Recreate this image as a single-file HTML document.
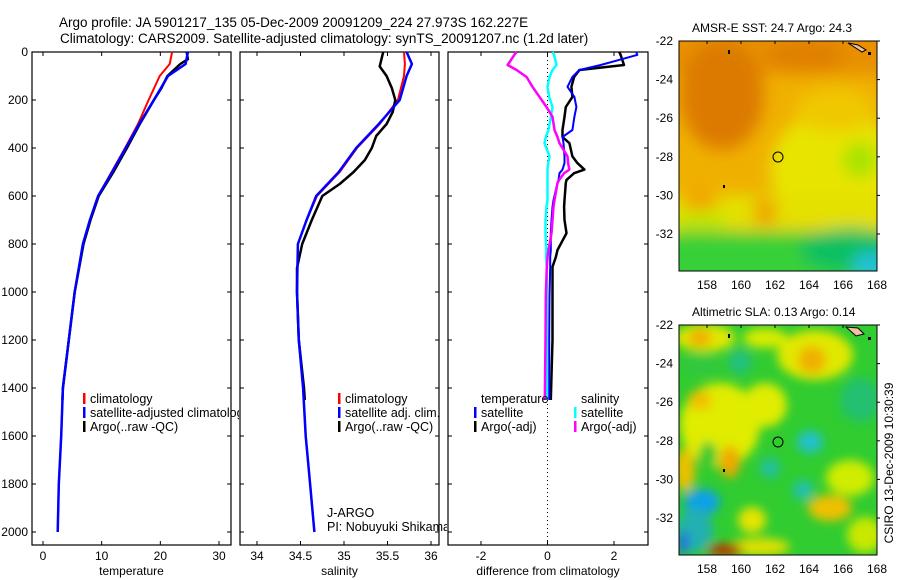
<!DOCTYPE html>
<html><head><meta charset="utf-8"><style>
html,body{margin:0;padding:0;background:#fff;}
svg{display:block;font-family:"Liberation Sans",sans-serif;}
</style></head><body>
<svg id="fig" width="900" height="580" viewBox="0 0 900 580" xmlns="http://www.w3.org/2000/svg">
<defs>
<filter id="blur1" x="-20%" y="-20%" width="140%" height="140%"><feGaussianBlur stdDeviation="8"/></filter>
<filter id="blur2" x="-20%" y="-20%" width="140%" height="140%"><feGaussianBlur stdDeviation="5"/></filter>
<clipPath id="cm1"><rect x="679" y="41" width="198" height="230"/></clipPath>
<clipPath id="cm2"><rect x="679" y="325" width="198" height="230"/></clipPath>
<clipPath id="cp1"><rect x="0" y="0" width="239" height="580"/></clipPath>
<clipPath id="cp2"><rect x="0" y="0" width="447" height="580"/></clipPath>
</defs>
<text x="59" y="27" font-size="13.5">Argo profile: JA 5901217_135 05-Dec-2009 20091209_224 27.973S 162.227E</text>
<text x="60" y="43" font-size="13.5">Climatology: CARS2009. Satellite-adjusted climatology: synTS_20091207.nc (1.2d later)</text>

<!-- Map 1 -->
<g>
<text x="692" y="32" font-size="12">AMSR-E SST: 24.7 Argo: 24.3</text>
<g clip-path="url(#cm1)">
<rect x="660" y="20" width="240" height="270" fill="#f0b000"/>
<g filter="url(#blur1)">
<rect x="660" y="20" width="240" height="55" fill="#e89000"/>
<ellipse cx="722" cy="95" rx="42" ry="55" fill="#dc7a00"/>
<ellipse cx="805" cy="55" rx="40" ry="16" fill="#e08000"/>
<ellipse cx="835" cy="170" rx="65" ry="60" fill="#e8e400"/>
<ellipse cx="860" cy="160" rx="18" ry="18" fill="#a8e400"/>
<ellipse cx="835" cy="110" rx="40" ry="22" fill="#f0c800"/>
<rect x="660" y="195" width="240" height="35" fill="#e4e000"/>
<ellipse cx="765" cy="212" rx="12" ry="14" fill="#f0a000"/>
<ellipse cx="700" cy="200" rx="18" ry="12" fill="#f0a800"/>
<ellipse cx="700" cy="222" rx="30" ry="8" fill="#b8e800"/>
<rect x="660" y="232" width="240" height="60" fill="#38d038"/>
<ellipse cx="850" cy="250" rx="50" ry="22" fill="#10c060"/>
<ellipse cx="872" cy="265" rx="20" ry="12" fill="#20c0e0"/>
</g>
<path d="M848 43 L858 45 L866 50 L862 52 Z" fill="#f0c0a0" stroke="#000" stroke-width="1"/>
<rect x="728" y="50" width="2" height="4" fill="#000"/>
<rect x="868" y="52" width="3" height="3" fill="#000"/>
<rect x="723" y="185" width="2" height="3" fill="#000"/>
<circle cx="778" cy="157" r="5" fill="none" stroke="#000" stroke-width="1"/>
</g>
<rect x="679" y="41" width="198" height="230" fill="none" stroke="#000" stroke-width="1"/>
<g id="m1ticks"></g>
</g>

<!-- Map 2 -->
<g>
<text x="692" y="316" font-size="12">Altimetric SLA: 0.13 Argo: 0.14</text>
<g clip-path="url(#cm2)">
<rect x="660" y="300" width="240" height="270" fill="#30cc30"/>
<g filter="url(#blur2)">
<ellipse cx="705" cy="338" rx="30" ry="14" fill="#e0e800"/>
<ellipse cx="700" cy="338" rx="12" ry="9" fill="#f0b000"/>
<ellipse cx="815" cy="355" rx="38" ry="25" fill="#e0e800"/>
<ellipse cx="812" cy="360" rx="14" ry="14" fill="#f0b000"/>
<ellipse cx="765" cy="338" rx="22" ry="10" fill="#d8ec00"/>
<ellipse cx="740" cy="362" rx="12" ry="12" fill="#20c080"/>
<ellipse cx="700" cy="365" rx="20" ry="10" fill="#30c840"/>
<ellipse cx="720" cy="425" rx="40" ry="42" fill="#e0ec00"/>
<ellipse cx="765" cy="405" rx="22" ry="22" fill="#e0ec00"/>
<ellipse cx="700" cy="400" rx="12" ry="10" fill="#f0c000"/>
<ellipse cx="730" cy="462" rx="10" ry="16" fill="#f0a800"/>
<ellipse cx="708" cy="455" rx="9" ry="13" fill="#30c830"/>
<ellipse cx="685" cy="470" rx="10" ry="22" fill="#f0c000"/>
<ellipse cx="810" cy="442" rx="13" ry="11" fill="#20c0d0"/>
<ellipse cx="770" cy="468" rx="10" ry="10" fill="#20c0a0"/>
<ellipse cx="803" cy="490" rx="10" ry="10" fill="#20c0b0"/>
<ellipse cx="860" cy="400" rx="20" ry="22" fill="#20c070"/>
<ellipse cx="850" cy="478" rx="24" ry="18" fill="#d0ec00"/>
<ellipse cx="830" cy="508" rx="22" ry="13" fill="#f0c000"/>
<ellipse cx="702" cy="502" rx="18" ry="13" fill="#10a0e8"/>
<ellipse cx="695" cy="530" rx="18" ry="22" fill="#20b0b0"/>
<ellipse cx="683" cy="543" rx="6" ry="12" fill="#2070e0"/>
<ellipse cx="752" cy="520" rx="14" ry="13" fill="#e8e400"/>
<ellipse cx="760" cy="547" rx="30" ry="9" fill="#e0e000"/>
<ellipse cx="725" cy="550" rx="18" ry="6" fill="#c03000"/>
<ellipse cx="865" cy="535" rx="18" ry="18" fill="#c8e800"/>
</g>
<path d="M846 327 L858 328 L864 334 L856 336 Z" fill="#f0c0a0" stroke="#000" stroke-width="1"/>
<rect x="728" y="334" width="2" height="4" fill="#000"/>
<rect x="868" y="337" width="3" height="3" fill="#000"/>
<rect x="723" y="469" width="2" height="3" fill="#000"/>
<circle cx="778" cy="442" r="5" fill="none" stroke="#000" stroke-width="1"/>
</g>
<rect x="679" y="325" width="198" height="230" fill="none" stroke="#000" stroke-width="1"/>
<g id="m2ticks"></g>
</g>
<text transform="translate(893,463) rotate(-90)" text-anchor="middle" font-size="12">CSIRO 13-Dec-2009 10:30:39</text>

<g id="panels"></g>
</svg>
<script>
// depth grids
const depthA = [0, 30, 50, 100, 150, 200, 300, 400, 500, 600, 700, 800, 1000, 1200, 1400, 1450];
const tempArgo = [24.5, 24.7, 23.4, 21.2, 20.2, 18.9, 16.5, 14.3, 12.0, 9.5, 8.1, 6.9, 5.4, 4.4, 3.4, 3.3];
const depthC = [0, 50, 100, 200, 300, 400, 500, 600, 700, 800, 1000, 1200, 1400, 1600, 1800, 2000];
const tempClim = [22.0, 21.6, 19.9, 18.0, 16.2, 14.0, 11.7, 9.4, 8.0, 6.8, 5.4, 4.4, 3.4, 3.1, 2.7, 2.5];
const tempSat = [24.7, 24.3, 21.3, 18.9, 16.4, 14.1, 11.8, 9.4, 8.0, 6.8, 5.4, 4.4, 3.4, 3.1, 2.7, 2.5];
const salClim = [35.69, 35.70, 35.69, 35.62, 35.41, 35.15, 34.95, 34.69, 34.57, 34.47, 34.46, 34.48, 34.53, 34.56, 34.61, 34.66];
const salSat = [35.72, 35.78, 35.72, 35.64, 35.40, 35.14, 34.94, 34.68, 34.57, 34.47, 34.46, 34.48, 34.53, 34.56, 34.61, 34.66];
const depthS = [0, 60, 100, 150, 200, 250, 300, 350, 400, 450, 500, 550, 600, 700, 800, 900, 1000, 1200, 1400, 1450];
const salArgo = [35.45, 35.41, 35.49, 35.55, 35.59, 35.56, 35.49, 35.37, 35.32, 35.24, 35.11, 34.95, 34.75, 34.63, 34.52, 34.46, 34.46, 34.48, 34.54, 34.55];
const depthD = [0, 12, 54, 75, 104, 145, 187, 229, 270, 325, 354, 380, 435, 463, 490, 505, 533, 546, 617, 645, 700, 755, 825, 855, 895, 1020, 1200, 1450];
const dTempArgo = [2.16, 2.2, 2.3, 0.96, 0.8, 0.72, 0.75, 0.55, 0.51, 0.45, 0.45, 0.66, 0.75, 0.9, 1.11, 0.8, 0.57, 0.55, 0.51, 0.5, 0.51, 0.57, 0.3, 0.25, 0.15, 0.15, 0.15, 0.1];
const dTempSat = [2.67, 2.7, 1.6, 0.96, 0.75, 0.6, 0.81, 0.87, 0.81, 0.75, 0.45, 0.48, 0.51, 0.51, 0.45, 0.36, 0.33, 0.3, 0.18, 0.15, 0.12, 0.1, 0.1, 0.08, 0.08, 0.06, 0.05, 0.05];
const dSalSat = [0.15, 0.2, 0.27, 0.15, 0.06, 0.0, 0.05, 0.15, 0.1, 0.03, -0.05, -0.09, 0.06, 0.02, 0.0, 0.0, 0.0, 0.0, 0.0, -0.03, -0.06, -0.06, -0.04, -0.04, -0.02, -0.02, -0.02, -0.02];
const dSalArgo = [-0.93, -1.0, -1.2, -0.93, -0.63, -0.45, -0.24, -0.03, 0.15, 0.21, 0.3, 0.36, 0.6, 0.62, 0.66, 0.5, 0.35, 0.3, 0.21, 0.18, 0.15, 0.12, 0.03, 0.0, -0.02, -0.05, -0.06, -0.08];
const depthTicks = [0, 200, 400, 600, 800, 1000, 1200, 1400, 1600, 1800, 2000];
const tempTicks = [0, 10, 20, 30];
const salTicks = ["34", "34.5", "35", "35.5", "36"];
const diffTicks = [-2, 0, 2];
const lonTicks = [158, 160, 162, 164, 166, 168];
const latTicks = [-22, -24, -26, -28, -30, -32];

const NS = "http://www.w3.org/2000/svg";
const root = document.getElementById('panels');
function mk(tag, attrs, parent) {
  const e = document.createElementNS(NS, tag);
  for (const k in attrs) e.setAttribute(k, attrs[k]);
  (parent || root).appendChild(e);
  return e;
}
const Y0 = 52, Y1 = 545;
const yScale = d => Y0 + d * 0.24;
function linX(x0, px0, x1, px1) { return v => px0 + (v - x0) * (px1 - px0) / (x1 - x0); }
const panels = [
  { name: 'temperature-panel', x: 32, w: 199, sx: linX(0, 43, 30, 219), ticks: tempTicks, label: 'temperature', clip: 'cp1' },
  { name: 'salinity-panel', x: 240, w: 199, sx: linX(34, 257, 36, 431), ticks: salTicks, label: 'salinity', clip: 'cp2' },
  { name: 'difference-panel', x: 448, w: 200, sx: linX(-2, 481, 2, 614), ticks: diffTicks, label: 'difference from climatology', clip: null }
];
panels.forEach((p, i) => {
  const g = mk('g', {});
  
  
  p.g = g;
  const box = mk('rect', { x: p.x, y: Y0, width: p.w, height: Y1 - Y0, fill: 'none', stroke: '#000', 'stroke-width': 1.2 }, g);
  
  
  p.ticks.forEach(t => {
    const x = p.sx(parseFloat(t));
    mk('line', { x1: x, x2: x, y1: Y1, y2: Y1 - 4, stroke: '#000' }, g);
    mk('line', { x1: x, x2: x, y1: Y0, y2: Y0 + 4, stroke: '#000' }, g);
    const tl = mk('text', { x: x, y: Y1 + 15, 'font-size': 12, 'text-anchor': 'middle' }, g);
    tl.textContent = t;
    
    
  });
  depthTicks.forEach(d => {
    const y = yScale(d);
    mk('line', { x1: p.x, x2: p.x + 4, y1: y, y2: y, stroke: '#000' }, g);
    mk('line', { x1: p.x + p.w, x2: p.x + p.w - 4, y1: y, y2: y, stroke: '#000' }, g);
    if (i === 0) {
      const tl = mk('text', { x: 28, y: y + 4, 'font-size': 12, 'text-anchor': 'end' }, g);
      tl.textContent = d;
      
      
    }
  });
  const xl = mk('text', { x: p.x + p.w / 2, y: 575, 'font-size': 12, 'text-anchor': 'middle' }, g);
  xl.textContent = p.label;
  
  
});
function line(p, xs, ds, color, w, name) {
  const pts = xs.map((v, k) => p.sx(v).toFixed(1) + ',' + yScale(ds[k]).toFixed(1)).join(' ');
  const e = mk('polyline', { points: pts, fill: 'none', stroke: color, 'stroke-width': w, 'stroke-linejoin': 'round' }, p.g);
  
  
}
const z = mk('line', { x1: panels[2].sx(0), x2: panels[2].sx(0), y1: Y0, y2: Y1, stroke: '#000', 'stroke-dasharray': '1,3' }, panels[2].g);



line(panels[0], tempClim, depthC, '#ff0000', 2, 'temp-climatology-line');
line(panels[0], tempArgo, depthA, '#000000', 2.5, 'temp-argo-line');
line(panels[0], tempSat, depthC, '#0000ff', 2.5, 'temp-satellite-line');
line(panels[1], salClim, depthC, '#ff0000', 2, 'sal-climatology-line');
line(panels[1], salArgo, depthS, '#000000', 2.5, 'sal-argo-line');
line(panels[1], salSat, depthC, '#0000ff', 2.5, 'sal-satellite-line');
line(panels[2], dTempArgo, depthD, '#000000', 2.5, 'dtemp-argo-line');
line(panels[2], dTempSat, depthD, '#0000ff', 2, 'dtemp-satellite-line');
line(panels[2], dSalSat, depthD, '#00ffff', 2.5, 'dsal-satellite-line');
line(panels[2], dSalArgo, depthD, '#ff00ff', 2.5, 'dsal-argo-line');

function legend(g, x, y, color, label, clip) {
  const lg = mk('g', clip ? { 'clip-path': 'url(#' + clip + ')' } : {}, g);
  
  
  if (color) mk('rect', { x: x - 7, y: y - 10, width: 2.5, height: 11, fill: color }, lg);
  const t = mk('text', { x: x, y: y, 'font-size': 12.5 }, lg);
  t.textContent = label;
}
legend(panels[0].g, 90, 403, '#ff0000', 'climatology', 'cp1');
legend(panels[0].g, 90, 417, '#0000ff', 'satellite-adjusted climatology', 'cp1');
legend(panels[0].g, 90, 431, '#000000', 'Argo(..raw -QC)', 'cp1');
legend(panels[1].g, 345, 403, '#ff0000', 'climatology');
legend(panels[1].g, 345, 417, '#0000ff', 'satellite adj. clim.');
legend(panels[1].g, 345, 431, '#000000', 'Argo(..raw -QC)');
legend(panels[1].g, 327, 517, null, 'J-ARGO');
legend(panels[1].g, 327, 531, null, 'PI: Nobuyuki Shikama', 'cp2');
legend(panels[2].g, 481, 403, null, 'temperature');
legend(panels[2].g, 481, 417, '#0000ff', 'satellite');
legend(panels[2].g, 481, 431, '#000000', 'Argo(-adj)');
legend(panels[2].g, 581, 403, null, 'salinity');
legend(panels[2].g, 581, 417, '#00ffff', 'satellite');
legend(panels[2].g, 581, 431, '#ff00ff', 'Argo(-adj)');

function mapTicks(gid, top, bottom) {
  const g = document.getElementById(gid);
  const lonX = lon => 707 + (lon - 158) * 17;
  const latY = lat => top + (-22 - lat) * ((bottom - top) / 10);
  lonTicks.forEach(l => {
    const x = lonX(l);
    mk('line', { x1: x, x2: x, y1: top, y2: top + 3, stroke: '#000' }, g);
    const t = mk('text', { x: x, y: top === 41 ? 289 : 573, 'font-size': 12, 'text-anchor': 'middle' }, g);
    t.textContent = l;
    
    
  });
  latTicks.forEach(l => {
    const y = latY(l);
    mk('line', { x1: 877, x2: 880, y1: y, y2: y, stroke: '#000' }, g);
    const t = mk('text', { x: 673, y: y + 4, 'font-size': 12, 'text-anchor': 'end' }, g);
    t.textContent = l;
    
    
  });
}
mapTicks('m1ticks', 41, 234);
mapTicks('m2ticks', 325, 518);
</script>
</body></html>
